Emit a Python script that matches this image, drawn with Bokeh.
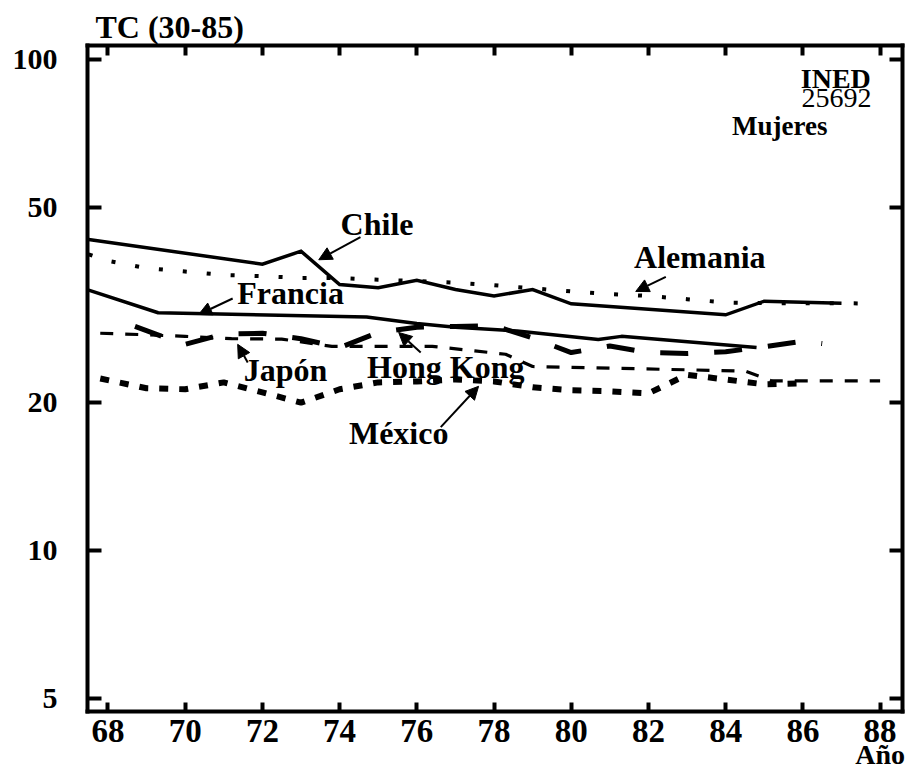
from bokeh.plotting import figure
from bokeh.models import (Range1d, FixedTicker, LinearAxis, LogAxis, Label,
                          Arrow, NormalHead)
from bokeh.embed import file_html
from bokeh.resources import INLINE

# Tasa compuesta TC (30-85), mujeres, por año
chile_years = [67.5, 72, 73, 74, 75, 76, 77, 78, 79, 80, 84, 85, 87]
chile_vals = [43.0, 38.3, 40.7, 34.8, 34.3, 35.5, 34.0, 33.0, 34.0, 31.8, 30.2, 32.2, 31.9]

alemania_years = [67.5, 68, 69, 70, 71, 72, 73, 74, 75, 76, 77, 78, 79, 80,
                  81, 82, 83, 84, 85, 86, 87, 87.5]
alemania_vals = [40.1, 38.9, 37.6, 37.0, 36.4, 36.2, 35.9, 35.9, 35.6, 35.4, 35.1,
                 34.7, 34.2, 33.7, 33.3, 33.0, 32.5, 32.0, 31.9, 31.9, 31.9, 31.85]

francia_years = [67.5, 69.3, 74.7, 76, 77, 78.6, 80.7, 81.3, 84.8]
francia_vals = [33.9, 30.5, 29.9, 29.0, 28.5, 28.0, 26.9, 27.3, 25.9]

japon_years = [67.8, 69, 70, 71.2, 72.5, 73.8, 76.4, 77.5, 78.3, 79, 84.5, 85.2, 88]
japon_vals = [27.7, 27.5, 27.3, 27.0, 26.95, 26.05, 26.05, 25.5, 25.1, 23.7, 23.2,
              22.15, 22.15]

hongkong_years = [68.7, 69.4, 70, 71, 72, 73, 74, 75, 76, 77, 78, 79, 80, 81, 82,
                  83, 84, 85, 86, 86.5]
hongkong_vals = [28.6, 27.3, 26.3, 27.6, 27.7, 27.0, 25.9, 27.8, 28.5, 28.6, 28.7,
                 27.1, 25.3, 26.1, 25.3, 25.2, 25.4, 26.0, 26.7, 26.4]

mexico_years = [67.8, 69, 70, 71, 72, 73, 74, 75, 76, 77, 78, 79, 80, 81, 82, 83,
                84, 85, 86]
mexico_vals = [22.4, 21.4, 21.3, 22.0, 21.0, 20.0, 21.3, 22.0, 22.1, 22.3, 22.1,
               21.5, 21.2, 21.1, 20.9, 22.8, 22.3, 21.8, 21.9]

x_ticks = [68, 70, 72, 74, 76, 78, 80, 82, 84, 86, 88]
y_ticks = [5, 10, 20, 50, 100]

# series labels: text, x, y, and arrow (x_start, y_start, x_end, y_end)
series_labels = [
    ("Chile", 74.97, 46.3, (74.54, 43.5, 73.46, 39.1)),
    ("Francia", 72.73, 33.5, (71.23, 32.6, 70.35, 30.25)),
    ("Alemania", 83.33, 39.7, (82.45, 36.1, 81.67, 33.7)),
    ("Japón", 72.6, 23.3, (71.62, 24.16, 71.36, 26.3)),
    ("Hong Kong", 76.75, 23.7, (76.1, 25.3, 75.53, 27.8)),
    ("México", 75.53, 17.35, (76.62, 17.84, 77.6, 21.6)),
]

FONT = "Liberation Serif"

p = figure(width=910, height=772, y_axis_type="log",
           x_range=Range1d(67.47, 88.58), y_range=Range1d(4.70, 106.8),
           output_backend="svg", toolbar_location=None,
           min_border_left=87, min_border_right=8,
           min_border_top=45, min_border_bottom=61)
p.grid.visible = False
p.outline_line_color = None
p.background_fill_color = "white"
p.border_fill_color = "white"

# y-axis caption in the title slot, flush with the frame's left edge
p.title.text = "TC (30-85)"
p.title.align = "left"
p.title.offset = 8
p.title.standoff = 2
p.title.text_font = FONT
p.title.text_font_style = "bold"
p.title.text_font_size = "32px"
p.title.text_color = "black"


def style_axis(ax, tick_in, labels=True, size="27px", standoff=8):
    ax.axis_line_width = 4
    ax.axis_line_color = "black"
    ax.axis_line_cap = "square"
    ax.major_tick_in = tick_in
    ax.major_tick_out = 0
    ax.major_tick_line_width = 4
    ax.major_tick_line_color = "black"
    ax.minor_tick_line_color = None
    if labels:
        ax.major_label_text_font = FONT
        ax.major_label_text_font_style = "bold"
        ax.major_label_text_font_size = size
        ax.major_label_text_color = "black"
        ax.major_label_standoff = standoff
    else:
        ax.major_label_text_font_size = "1px"
        ax.major_label_text_color = None
        ax.major_label_standoff = 0


xax = p.xaxis[0]
xax.ticker = FixedTicker(ticks=x_ticks)
style_axis(xax, 9, size="33px", standoff=8)

yax = p.yaxis[0]
yax.ticker = FixedTicker(ticks=y_ticks)
yax.major_label_overrides = {t: str(t) for t in y_ticks}
style_axis(yax, 14, size="30px", standoff=30)

top_ax = LinearAxis(ticker=FixedTicker(ticks=x_ticks))
style_axis(top_ax, 10, labels=False)
p.add_layout(top_ax, "above")

right_ax = LogAxis(ticker=FixedTicker(ticks=y_ticks))
style_axis(right_ax, 13, labels=False)
p.add_layout(right_ax, "right")

# x-axis caption set under the last year
ano_ax = LinearAxis(ticker=FixedTicker(ticks=[88]),
                    major_label_overrides={88: "Año"})
ano_ax.axis_line_color = None
ano_ax.major_tick_line_color = None
ano_ax.minor_tick_line_color = None
ano_ax.major_label_text_font = FONT
ano_ax.major_label_text_font_style = "bold"
ano_ax.major_label_text_font_size = "28px"
ano_ax.major_label_text_color = "black"
ano_ax.major_label_standoff = -12
p.add_layout(ano_ax, "below")

# series lines
p.line(alemania_years, alemania_vals, line_color="black", line_width=4,
       line_dash="4 20")
p.line(chile_years, chile_vals, line_color="black", line_width=3.5,
       line_join="miter")
p.line(francia_years, francia_vals, line_color="black", line_width=3.5)
p.line(japon_years, japon_vals, line_color="black", line_width=3.2,
       line_dash="13 12")
p.line(hongkong_years, hongkong_vals, line_color="black", line_width=5,
       line_dash="28 26")
p.line(mexico_years, mexico_vals, line_color="black", line_width=6,
       line_dash="9 11")

for text, lx, ly, (xs, ys, xe, ye) in series_labels:
    p.add_layout(Label(x=lx, y=ly, text=text, text_font=FONT,
                       text_font_style="bold", text_font_size="32px",
                       text_align="center", text_baseline="middle",
                       text_color="black"))
    p.add_layout(Arrow(x_start=xs, y_start=ys, x_end=xe, y_end=ye,
                       line_width=2, line_color="black",
                       end=NormalHead(size=13, fill_color="black",
                                      line_color="black", line_width=1)))

# corner notes
p.add_layout(Label(x=87.76, y=91.5, text="INED", text_font=FONT,
                   text_font_style="bold", text_font_size="28px",
                   text_align="right", text_baseline="middle",
                   text_color="black"))
p.add_layout(Label(x=87.78, y=83.3, text="25692", text_font=FONT,
                   text_font_size="28px", text_align="right",
                   text_baseline="middle", text_color="black"))
p.add_layout(Label(x=85.4, y=73.1, text="Mujeres", text_font=FONT,
                   text_font_style="bold", text_font_size="27px",
                   text_align="center", text_baseline="middle",
                   text_color="black"))

open("out.html", "w").write(file_html(p, INLINE))
